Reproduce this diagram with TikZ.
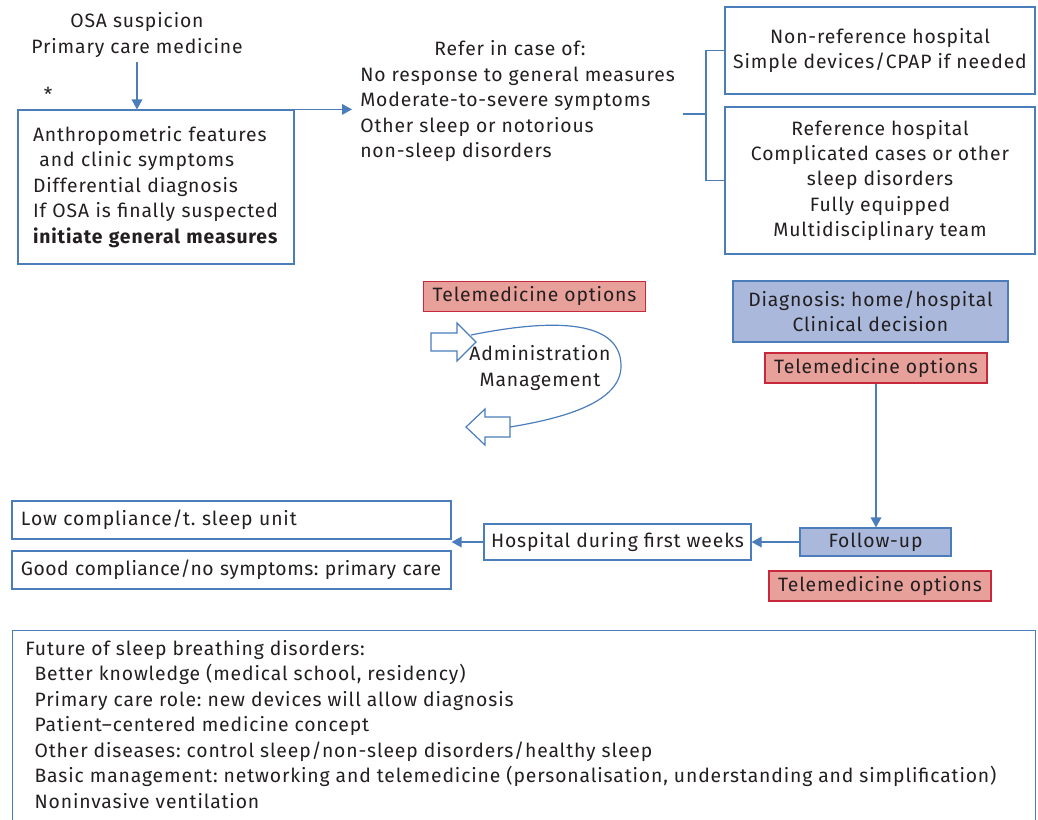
\documentclass[tikz,border=0pt]{standalone}
\usepackage{fontspec}
\setmainfont{Fira Sans}[LetterSpace=4.5]
\usepackage{tikz}
\usetikzlibrary{calc, arrows.meta}
\definecolor{lineblue}{HTML}{4A7DBA}
\definecolor{txtgray}{HTML}{231F20}
\definecolor{telepink}{HTML}{E8A09B}
\definecolor{telered}{HTML}{C8283C}
\definecolor{diagblue}{HTML}{A9B8DB}
\frenchspacing
\tikzset{
  txt/.style={font=\fontsize{14.5}{19.1}\selectfont, text=txtgray},
  box/.style={txt, draw=lineblue, line width=0.9pt, inner sep=0pt},
  tele/.style={box, draw=telered, fill=telepink, minimum width=166.5pt, minimum height=22.5pt},
  diagbox/.style={box, fill=diagblue},
  leftbox/.style={box, align=left, inner xsep=6.75pt, text width=315.75pt, minimum height=28.5pt},
  line/.style={draw=lineblue, line width=0.9pt},
  arr/.style={line, ->, >={Triangle[length=7.5pt,width=8pt]}}
}

\begin{document}
\begin{tikzpicture}[x=0.75pt, y=-0.75pt]
  \useasboundingbox (0,0) rectangle (1038,819);
  % primary care
  \node[txt, align=center] (osa) at (137,35) {OSA suspicion\\Primary care medicine};
  \node[txt] (star) at (48,94) {*};
  \node[box, align=left, inner xsep=11.25pt, text width=184.5pt, minimum height=115.5pt] (measures) at (156,187)
    {Anthropometric features\\\ and clinic symptoms\\Differential diagnosis\\If OSA is finally suspected\\\textbf{initiate general measures}};
  \draw[arr] (osa.south) -- (osa.south |- measures.north);
  % referral
  \node[txt] (refhead) at (510,48) {Refer in case of:};
  \node[txt, align=left, anchor=west, inner sep=6pt] (refer) at (352,114.5)
    {No response to general measures\\Moderate-to-severe symptoms\\Other sleep or notorious\\non-sleep disorders};
  \draw[arr] (measures.north east) -- (measures.north east -| refer.west);
  \node[box, align=center, minimum width=232.5pt, minimum height=65.25pt] (nonref) at (880,50.5)
    {Non-reference hospital\\Simple devices/CPAP if needed};
  \node[box, align=center, minimum width=232.5pt, minimum height=110.25pt] (refbox) at (880,180.5)
    {Reference hospital\\Complicated cases or other\\sleep disorders\\Fully equipped\\Multidisciplinary team};
  \coordinate (br) at (706,114);
  \draw[line] (refer.east |- br) -- (br);
  \draw[line] (nonref.west) -| (br) |- (refbox.west);
  % administration loop
  \node[tele] (tele1) at (534.5,296.5) {Telemedicine options};
  \node[txt, align=center] (admin) at (540,368) {Administration\\Management};
  \draw[line] (431,333) -- (457,333) -- (457,323) -- (476,342) -- (457,361) -- (457,351) -- (431,351) -- cycle; % in
  \draw[line] (510,417) -- (485,417) -- (485,409) -- (466,427) -- (485,445) -- (485,437) -- (510,437) -- cycle; % out
  \coordinate (loopin) at (471,335);
  \coordinate (loopout) at (510,427);
  \draw[line] (loopin) .. controls (560,317) and (621,322) .. (621,366)
    .. controls (621,402) and (565,418) .. (loopout);
  % diagnosis and follow-up
  \node[diagbox, align=center, minimum width=206.25pt, minimum height=45.75pt] (diag) at (870.5,311.5)
    {Diagnosis: home/hospital\\Clinical decision};
  \node[tele] (tele2) at (876,368) {Telemedicine options};
  \node[diagbox, minimum width=113.25pt, minimum height=21pt] (follow) at (875.5,542) {Follow-up};
  \node[tele] (tele3) at (880,586) {Telemedicine options};
  \node[box, minimum width=200.25pt, minimum height=27pt] (hospital) at (617.5,542) {Hospital during first weeks};
  \node[leftbox] (low) at (231.5,520) {Low compliance/t. sleep unit};
  \node[leftbox] (good) at (231.5,570) {\addfontfeature{LetterSpace=2.5}\mbox{Good compliance/no symptoms: primary care}};
  \draw[arr] (tele2.south) -- (tele2.south |- follow.north);
  \draw[arr] (follow.west) -- (hospital.east);
  \draw[arr] (hospital.west) -- (hospital.west -| low.east);
  % future
  \node[box, anchor=north west, minimum width=767.25pt, minimum height=187.5pt] (futurebox) at (12,630) {};
  \node[txt, align=left, anchor=north west, inner sep=0pt] (future) at (25,640)
    {Future of sleep breathing disorders:\\
     \hspace*{7pt}Better knowledge (medical school, residency)\\
     \hspace*{7pt}Primary care role: new devices will allow diagnosis\\
     \hspace*{7pt}Patient--centered medicine concept\\
     \hspace*{7pt}Other diseases: control sleep/non-sleep disorders/healthy sleep\\
     \hspace*{7pt}Basic management: networking and telemedicine (personalisation, understanding and simplification)\\
     \hspace*{7pt}Noninvasive ventilation};
\end{tikzpicture}
\end{document}
